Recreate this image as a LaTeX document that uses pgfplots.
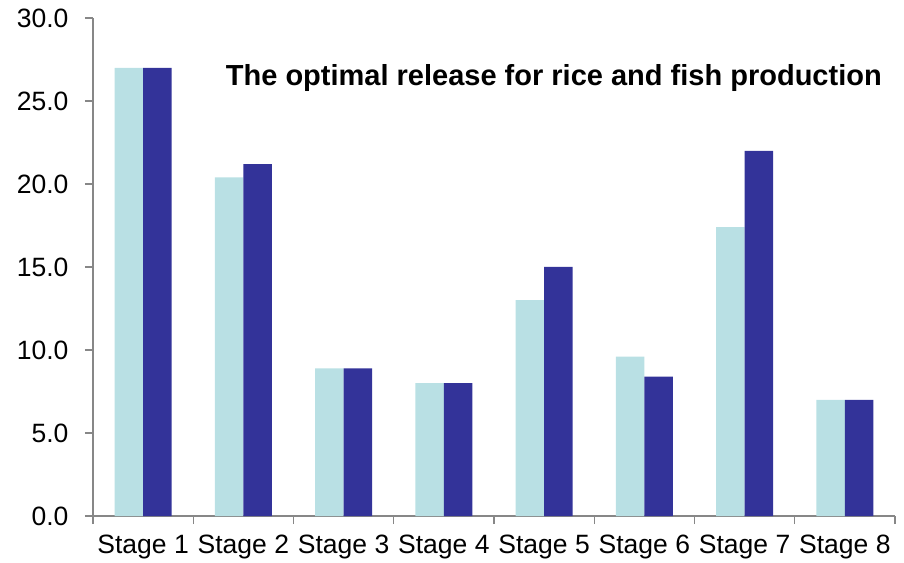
\documentclass[border=0pt]{standalone}
\usepackage{pgfplots}
\pgfplotsset{compat=1.18}
\usepackage{fontspec}
\setmainfont{Liberation Sans}

\definecolor{lightbar}{HTML}{B9E0E4}
\definecolor{darkbar}{HTML}{333399}
\definecolor{axisgray}{HTML}{878787}

\begin{document}
\begin{tikzpicture}
\begin{axis}[
  name=ax,
  scale only axis,
  width=802pt, height=498pt,
  xmin=-0.5, xmax=7.5,
  ymin=0, ymax=30,
  axis lines=left,
  axis line style={-, draw=axisgray, line width=1.6pt},
  ybar=0pt,
  bar width=28.5pt,
  xtick={0,...,7},
  xticklabels={Stage 1,Stage 2,Stage 3,Stage 4,Stage 5,Stage 6,Stage 7,Stage 8},
  minor xtick={-0.5,0.5,...,7.5},
  major x tick style={draw=none},
  minor x tick style={draw=axisgray, line width=1.4pt},
  minor tick length=8pt,
  ytick={0,5,...,30},
  major tick length=8pt,
  y tick style={draw=axisgray, line width=1.4pt},
  tick align=outside,
  y tick label style={/pgf/number format/fixed, /pgf/number format/fixed zerofill,
    /pgf/number format/precision=1},
  /pgf/number format/assume math mode=true,
  ticklabel style={font=\fontsize{26.5}{31}\selectfont, text=black},
  xticklabel style={yshift=-7pt},
  yticklabel style={xshift=-13pt},
  clip=false,
]
\addplot[fill=lightbar, draw=none] coordinates {
  (0,27.0) (1,20.4) (2,8.9) (3,8.0) (4,13.0) (5,9.6) (6,17.4) (7,7.0)};
\addplot[fill=darkbar, draw=none] coordinates {
  (0,27.0) (1,21.2) (2,8.9) (3,8.0) (4,15.0) (5,8.4) (6,22.0) (7,7.0)};
\node[anchor=base east, inner sep=0pt, font=\fontsize{29}{34}\selectfont\bfseries]
  at (axis cs:7.37,25.96) {The optimal release for rice and fish production};
\end{axis}
\pgfresetboundingbox
\path (ax.south west) ++(-93pt,-46pt) rectangle ++(904pt,562pt);
\end{tikzpicture}
\end{document}
